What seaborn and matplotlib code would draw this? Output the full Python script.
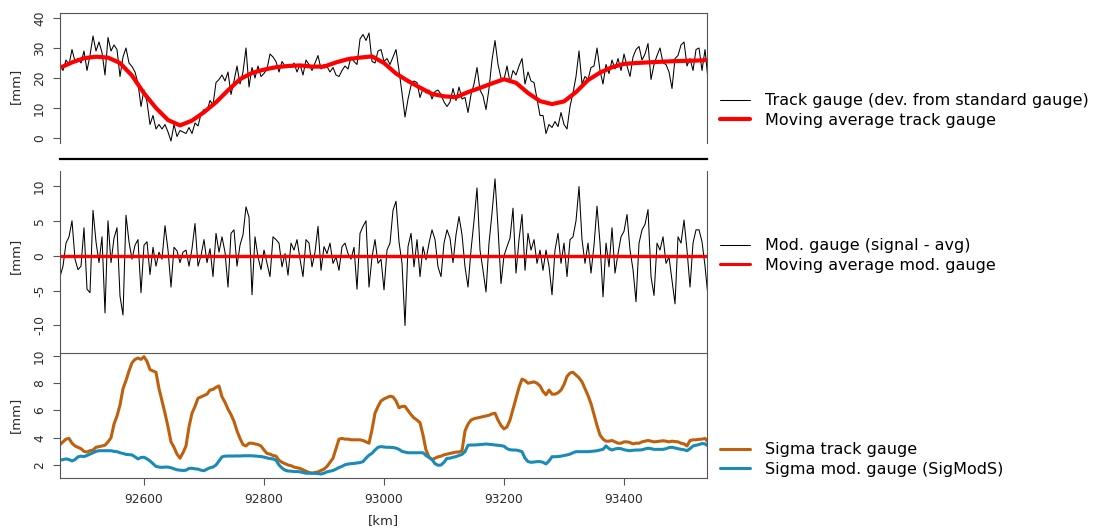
import numpy as np
import pandas as pd
import matplotlib
matplotlib.use("Agg")
import matplotlib.pyplot as plt
import seaborn as sns
from matplotlib.lines import Line2D

# ---------------------------------------------------------------------------
# Track gauge survey, chainage 92460 - 93540 km, sampled every 5 km
# ---------------------------------------------------------------------------
km = np.arange(92460, 93541, 5)

# deviation of the track gauge from standard gauge [mm]
track_gauge = [
    25.0, 22.5, 26.0, 24.5, 29.5, 25.5, 26.5, 25.0, 29.0, 22.5,
    27.5, 34.0, 29.0, 32.0, 28.5, 21.0, 33.5, 29.0, 31.0, 29.5,
    20.5, 27.0, 30.0, 25.0, 23.8, 22.0, 18.2, 10.5, 16.0, 12.0,
    4.5, 7.5, 3.0, 4.5, 3.0, 4.5, 2.0, -1.0, 4.5, 0.5,
    2.5, 2.0, 1.5, 3.5, 1.5, 5.0, 4.0, 8.0, 9.5, 9.0,
    12.5, 11.0, 18.5, 19.5, 21.0, 19.0, 22.0, 14.5, 19.0, 24.0,
    18.0, 22.0, 30.0, 17.0, 23.5, 20.0, 24.0, 20.5, 21.5, 23.0,
    28.0, 27.0, 25.5, 22.0, 25.5, 24.0, 24.5, 23.5, 25.0, 22.0,
    24.5, 21.0, 26.0, 24.5, 22.5, 25.0, 27.5, 23.0, 24.5, 23.8,
    22.0, 23.5, 21.0, 20.5, 22.5, 24.0, 23.0, 27.0, 25.5, 24.5,
    33.0, 34.5, 32.5, 35.0, 25.5, 25.0, 29.0, 29.5, 25.5, 26.5,
    24.5, 27.0, 29.5, 22.5, 15.0, 7.0, 13.0, 17.5, 19.0, 18.5,
    13.5, 16.5, 15.0, 16.0, 13.0, 15.5, 16.0, 14.5, 12.0, 10.5,
    12.0, 16.5, 12.5, 17.0, 13.0, 13.5, 8.5, 14.5, 18.0, 23.5,
    16.0, 14.0, 9.5, 16.5, 26.0, 32.5, 24.5, 20.0, 19.5, 24.0,
    18.5, 22.5, 21.0, 24.0, 26.5, 18.0, 22.0, 19.0, 18.5, 13.0,
    7.5, 7.5, 1.5, 4.5, 3.5, 5.5, 3.8, 8.5, 4.5, 3.0,
    10.5, 15.0, 20.5, 29.0, 18.0, 20.5, 19.5, 23.5, 24.0, 30.0,
    22.5, 18.0, 24.5, 21.5, 26.0, 23.0, 26.5, 22.5, 28.0, 24.0,
    20.5, 27.0, 29.5, 30.5, 26.0, 28.0, 31.5, 19.5, 24.5, 27.5,
    30.0, 25.0, 24.5, 22.0, 16.5, 26.5, 27.5, 31.0, 32.0, 24.0,
    26.5, 22.5, 29.5, 30.0, 22.5, 29.5, 19.5,
]

# modified gauge: signal minus its moving average [mm]
mod_gauge = [
    -3.0, -1.5, 1.8, 2.7, 5.0, -0.5, -2.0, -1.5, 4.0, -4.8,
    -5.3, 6.5, 2.0, -1.0, 2.7, -8.2, 5.0, -1.0, 2.5, 4.0,
    -5.8, -8.5, 5.8, 2.0, -0.5, 1.5, 2.3, -5.3, 1.5, 2.0,
    -2.7, 1.2, -1.5, 0.5, -0.5, 4.3, 0.8, -4.5, 1.2, 0.7,
    -1.0, 0.5, 0.8, -1.5, 1.0, 4.6, -1.5, 0.0, 2.3, -1.0,
    1.0, -3.0, 3.2, 0.5, 2.7, 0.5, -4.5, 3.2, 3.7, -1.5,
    1.5, 3.0, 7.0, 5.5, -5.6, 2.7, -0.2, -2.0, 0.8, -1.1,
    -3.0, 2.7, 2.3, 1.8, -1.6, 0.3, -2.8, 1.8, 0.8, 2.3,
    -0.5, -3.0, 2.3, 1.8, -1.6, 0.5, 4.2, -2.1, 1.3, 0.3,
    1.8, -1.1, -0.2, -2.1, 1.3, 1.8, 0.3, -0.5, 1.2, -4.8,
    3.2, 4.2, 5.0, -4.5, -0.2, 2.3, -1.1, -0.5, -4.9, 0.8,
    1.8, 6.5, 7.8, 2.0, -1.1, -10.0, 1.3, 3.2, -1.6, 2.3,
    -3.0, 1.3, -0.6, 1.8, 3.7, 2.3, -1.6, -3.0, 1.8, 3.7,
    2.5, -1.0, 3.0, 5.6, 3.0, -1.6, -4.5, 0.8, 5.0, 9.7,
    0.8, -2.1, -5.2, 1.8, 6.1, 11.0, 4.0, -4.0, 0.0, 1.3,
    2.5, 6.8, -2.5, 2.3, 5.9, -2.1, 3.2, 0.8, 2.3, -1.1,
    0.8, -2.1, 0.8, -1.5, -5.6, 0.8, 3.2, -1.1, 1.8, -3.0,
    2.3, 2.7, 5.0, 9.9, 2.3, -1.1, 1.8, -2.5, 1.5, 7.1,
    1.8, -5.9, 1.8, -1.6, 4.0, -2.5, 0.3, 2.7, 3.5, 5.9,
    0.8, -2.0, -6.6, 1.8, 3.7, 4.5, 6.6, -3.0, -5.7, 1.8,
    0.8, 2.7, -1.1, -0.2, -3.5, -6.9, 2.7, 1.8, 5.1, 0.8,
    -4.5, 1.8, 3.7, 3.7, 2.0, -1.5, -5.9,
]

# running standard deviation of the track gauge [mm]
sigma_track = [
    3.5, 3.7, 3.9, 3.95, 3.6, 3.4, 3.3, 3.2, 3.0, 2.95,
    3.05, 3.1, 3.3, 3.35, 3.4, 3.45, 3.7, 4.0, 5.0, 5.6,
    6.4, 7.6, 8.2, 8.9, 9.5, 9.75, 9.85, 9.75, 9.95, 9.6,
    9.0, 8.9, 8.8, 7.6, 6.7, 5.8, 4.8, 3.7, 3.3, 2.8,
    2.5, 2.9, 3.4, 4.8, 5.8, 6.3, 6.9, 7.0, 7.1, 7.2,
    7.5, 7.55, 7.7, 7.8, 7.0, 6.6, 6.1, 5.7, 5.2, 4.5,
    3.95, 3.5, 3.4, 3.6, 3.6, 3.55, 3.5, 3.4, 3.1, 2.85,
    2.8, 2.7, 2.65, 2.35, 2.2, 2.1, 2.0, 1.95, 1.85, 1.8,
    1.75, 1.65, 1.55, 1.45, 1.4, 1.45, 1.5, 1.6, 1.7, 1.9,
    2.2, 2.5, 3.2, 3.9, 3.95, 3.9, 3.9, 3.85, 3.85, 3.85,
    3.85, 3.8, 3.7, 3.6, 4.6, 5.8, 6.3, 6.7, 6.85, 6.95,
    7.05, 7.0, 6.7, 6.2, 6.3, 6.3, 6.0, 5.7, 5.45, 5.3,
    5.1, 4.2, 3.1, 2.6, 2.4, 2.5, 2.6, 2.65, 2.75, 2.8,
    2.85, 2.9, 2.95, 2.95, 3.05, 4.5, 5.0, 5.3, 5.4, 5.45,
    5.5, 5.55, 5.6, 5.65, 5.75, 5.8, 5.3, 4.9, 4.65, 4.8,
    5.3, 6.1, 6.9, 7.7, 8.3, 8.2, 8.0, 8.05, 8.1, 8.0,
    7.8, 7.4, 7.15, 7.5, 7.2, 7.2, 7.3, 7.5, 7.9, 8.5,
    8.75, 8.8, 8.6, 8.4, 8.1, 7.6, 7.1, 6.5, 5.7, 4.9,
    4.2, 3.9, 3.75, 3.75, 3.8, 3.7, 3.6, 3.6, 3.7, 3.7,
    3.65, 3.55, 3.6, 3.6, 3.7, 3.75, 3.8, 3.75, 3.7, 3.72,
    3.75, 3.78, 3.75, 3.7, 3.75, 3.72, 3.7, 3.6, 3.55, 3.4,
    3.8, 3.85, 3.85, 3.88, 3.9, 3.95, 3.7,
]

# running standard deviation of the modified gauge (SigModS) [mm]
sigma_mod = [
    2.35, 2.4, 2.45, 2.4, 2.3, 2.4, 2.6, 2.65, 2.62, 2.7,
    2.8, 2.9, 3.0, 3.05, 3.05, 3.05, 3.05, 3.05, 3.0, 2.98,
    2.9, 2.85, 2.78, 2.76, 2.74, 2.6, 2.45, 2.55, 2.57, 2.45,
    2.3, 2.1, 1.9, 1.85, 1.83, 1.85, 1.85, 1.8, 1.72, 1.65,
    1.62, 1.6, 1.62, 1.75, 1.76, 1.72, 1.7, 1.62, 1.58, 1.7,
    1.8, 1.85, 2.0, 2.3, 2.6, 2.65, 2.66, 2.66, 2.66, 2.67,
    2.66, 2.68, 2.68, 2.68, 2.68, 2.66, 2.64, 2.62, 2.58, 2.52,
    2.47, 2.45, 2.35, 2.0, 1.78, 1.62, 1.56, 1.55, 1.52, 1.52,
    1.5, 1.45, 1.4, 1.4, 1.4, 1.39, 1.37, 1.34, 1.4, 1.5,
    1.55, 1.6, 1.7, 1.82, 1.9, 2.02, 2.07, 2.1, 2.12, 2.15,
    2.18, 2.25, 2.5, 2.72, 2.86, 3.1, 3.3, 3.35, 3.32, 3.3,
    3.3, 3.28, 3.24, 3.15, 3.0, 2.95, 2.9, 2.9, 2.9, 2.9,
    2.9, 2.9, 2.7, 2.55, 2.4, 2.1, 1.98, 2.0, 2.2, 2.49,
    2.5, 2.57, 2.62, 2.7, 2.78, 2.98, 3.45, 3.47, 3.47, 3.48,
    3.5, 3.52, 3.54, 3.52, 3.5, 3.47, 3.45, 3.42, 3.38, 3.2,
    3.12, 3.1, 3.1, 3.05, 2.98, 2.5, 2.25, 2.2, 2.22, 2.25,
    2.25, 2.2, 2.08, 2.3, 2.61, 2.61, 2.62, 2.65, 2.7, 2.74,
    2.8, 2.9, 2.98, 2.98, 2.98, 2.98, 2.98, 3.0, 3.02, 3.05,
    3.1, 3.15, 3.4, 3.2, 3.1, 3.18, 3.22, 3.2, 3.12, 3.08,
    3.05, 3.08, 3.1, 3.1, 3.12, 3.18, 3.23, 3.2, 3.15, 3.15,
    3.15, 3.15, 3.2, 3.28, 3.3, 3.25, 3.2, 3.15, 3.12, 3.05,
    3.2, 3.4, 3.45, 3.5, 3.58, 3.55, 3.4,
]

# moving average of the track gauge, every 20 km [mm]
mavg_km = np.arange(92460, 93541, 20)
mavg_track = [
    23.4, 25.2, 26.6, 27.1, 26.8, 25.0, 20.8, 14.9, 10.0, 6.0,
    4.2, 5.8, 8.6, 11.9, 15.9, 19.6, 21.7, 22.8, 23.6, 24.0,
    24.2, 23.8, 23.8, 25.2, 26.3, 26.8, 27.2, 25.0, 21.5, 19.0,
    16.8, 14.7, 13.9, 13.6, 15.3, 16.7, 18.2, 19.6, 18.4, 15.0,
    12.3, 11.3, 12.2, 15.3, 19.3, 21.8, 23.6, 24.7, 25.0, 25.2,
    25.4, 25.6, 25.7, 25.8, 26.0,
]

# moving average of the modified gauge [mm]
mavg_mod_km = [92460, 92640, 92820, 93000, 93180, 93360, 93540]
mavg_mod = [0.0, 0.0, 0.0, 0.0, 0.0, 0.0, 0.0]

# axis ticks
x_ticks = [92600, 92800, 93000, 93200, 93400]
y1_ticks = [0, 10, 20, 30, 40]
y2_ticks = [-10, -5, 0, 5, 10]
y3_ticks = [2, 4, 6, 8, 10]

# ---------------------------------------------------------------------------
sns.set_style("white")
plt.rcParams["font.family"] = ["DejaVu Sans"]

RED = "#ff0000"
ORANGE = "#bf600c"
BLUE = "#1a8bb8"
SPINE = "#555555"
TXT = "#2b2b2b"

W, H = 1101, 529
fig = plt.figure(figsize=(W / 100, H / 100), dpi=100)


def box(l, t, r, b):
    return [l / W, 1 - b / H, (r - l) / W, (b - t) / H]


ax1 = fig.add_axes(box(60, 13, 707, 159))
ax2 = fig.add_axes(box(60, 159, 707, 352.7))
ax3 = fig.add_axes(box(60, 352.7, 707, 477.7))
for ax in (ax1, ax2, ax3):
    ax.patch.set_alpha(0)

df1 = pd.DataFrame({"km": km, "gauge": track_gauge, "mod": mod_gauge,
                    "s_track": sigma_track, "s_mod": sigma_mod})
dfa = pd.DataFrame({"km": mavg_km, "avg": mavg_track})
dfm = pd.DataFrame({"km": mavg_mod_km, "avg": mavg_mod})

# panel 1: raw gauge and its moving average
sns.lineplot(data=df1, x="km", y="gauge", ax=ax1, color="black", lw=0.75,
             estimator=None, sort=False, legend=False)
sns.lineplot(data=dfa, x="km", y="avg", ax=ax1, color=RED, lw=3.0,
             estimator=None, sort=False, legend=False)

# panel 2: modified gauge
sns.lineplot(data=df1, x="km", y="mod", ax=ax2, color="black", lw=0.75,
             estimator=None, sort=False, legend=False)
sns.lineplot(data=dfm, x="km", y="avg", ax=ax2, color=RED, lw=2.4,
             estimator=None, sort=False, legend=False)

# panel 3: sigma values
sns.lineplot(data=df1, x="km", y="s_track", ax=ax3, color=ORANGE, lw=2.2,
             estimator=None, sort=False, legend=False)
sns.lineplot(data=df1, x="km", y="s_mod", ax=ax3, color=BLUE, lw=2.2,
             estimator=None, sort=False, legend=False)

xlim = (92460, 93538.3)
for ax in (ax1, ax2, ax3):
    ax.set_xlim(*xlim)
    ax.set_xlabel("")
    ax.set_ylabel("[mm]", fontsize=9.5, color=TXT)
    for s in ax.spines.values():
        s.set_color(SPINE)
        s.set_linewidth(0.8)
    ax.tick_params(axis="y", direction="out", length=5, width=0.8, color=SPINE,
                   labelsize=8.8, labelcolor=TXT, pad=5, left=True)

ax1.set_ylim(-7.0, 41.67)
ax2.set_ylim(-13.9, 13.85)
ax3.set_ylim(1.07, 10.24)

ax1.set_yticks(y1_ticks)
ax2.set_yticks(y2_ticks)
ax3.set_yticks(y3_ticks)
for ax in (ax1, ax2, ax3):
    ax.set_yticklabels([str(t) for t in ax.get_yticks().astype(int)],
                       rotation=90, va="center")

ax1.spines["left"].set_bounds(-1.7, 41.67)
ax1.spines["right"].set_bounds(-1.7, 41.67)
ax1.spines["bottom"].set_color("black")
ax1.spines["bottom"].set_linewidth(1.6)
ax1.spines["bottom"].set_zorder(5)
ax2.spines["top"].set_visible(False)
ax2.spines["left"].set_bounds(-13.9, 12.2)
ax2.spines["right"].set_bounds(-13.9, 12.2)
ax3.spines["top"].set_visible(False)

for ax in (ax1, ax2):
    ax.set_xticks([])
ax3.set_xticks(x_ticks)
ax3.set_xticklabels([str(t) for t in x_ticks])
ax3.tick_params(axis="x", direction="out", length=5, width=0.8, color=SPINE,
                labelsize=8.8, labelcolor=TXT, pad=6, bottom=True)
ax3.set_xlabel("[km]", fontsize=9.5, color=TXT)
ax3.xaxis.set_label_coords(0.5, -0.29)

for ax in (ax1, ax2, ax3):
    ax.yaxis.set_label_coords(-0.0587, 0.5)

# legends to the right of each panel
leg_kw = dict(loc="center left", frameon=False, fontsize=11.5, handlelength=1.85,
              handletextpad=0.95, labelspacing=0.28, borderpad=0, borderaxespad=0,
              labelcolor="black")


def add_legend(y_px, entries):
    handles = [Line2D([], [], color=c, lw=lw) for c, lw, _ in entries]
    labels = [t for _, _, t in entries]
    fig.legend(handles, labels, bbox_to_anchor=(720 / W, 1 - y_px / H), **leg_kw)


add_legend(110.4, [("black", 0.75, "Track gauge (dev. from standard gauge)"),
                   (RED, 3.0, "Moving average track gauge")])
add_legend(255.7, [("black", 0.75, "Mod. gauge (signal - avg)"),
                   (RED, 2.2, "Moving average mod. gauge")])
add_legend(459.7, [(ORANGE, 2.2, "Sigma track gauge"),
                   (BLUE, 2.2, "Sigma mod. gauge (SigModS)")])

fig.savefig("out.png", dpi=100)
